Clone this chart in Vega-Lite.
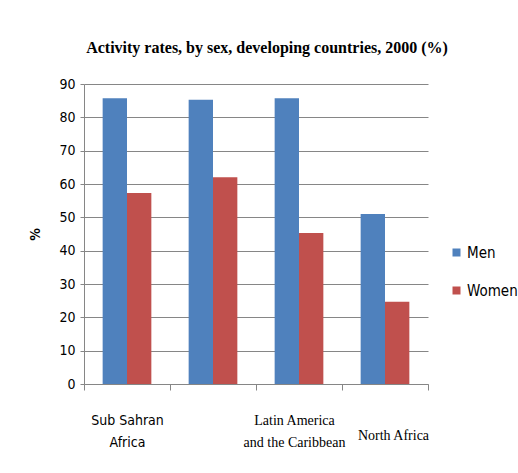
{
  "$schema": "https://vega.github.io/schema/vega-lite/v6.json",
  "width": 344,
  "height": 300,
  "autosize": {"type": "none"},
  "padding": {"left": 84, "top": 84, "right": 90, "bottom": 89},
  "background": "white",
  "title": {
    "text": "Activity rates, by sex, developing countries, 2000 (%)",
    "font": "Liberation Serif",
    "fontSize": 16,
    "fontWeight": "bold",
    "color": "#000000",
    "anchor": "middle",
    "dx": 11,
    "offset": 21
  },
  "data": {
    "values": [
      {"region": "Sub Sahran Africa", "sex": "Men", "value": 85.7},
      {"region": "Sub Sahran Africa", "sex": "Women", "value": 57.3},
      {"region": " ", "sex": "Men", "value": 85.3},
      {"region": " ", "sex": "Women", "value": 62.0},
      {"region": "Latin America and the Caribbean", "sex": "Men", "value": 85.7},
      {"region": "Latin America and the Caribbean", "sex": "Women", "value": 45.3},
      {"region": "North Africa", "sex": "Men", "value": 51.0},
      {"region": "North Africa", "sex": "Women", "value": 24.7}
    ]
  },
  "mark": {"type": "bar"},
  "encoding": {
    "x": {
      "field": "region",
      "type": "nominal",
      "sort": null,
      "scale": {"paddingInner": 0, "paddingOuter": 0},
      "axis": {
        "title": null,
        "labelAngle": 0,
        "tickBand": "extent",
        "tickSize": 6,
        "tickColor": "#868686",
        "domainColor": "#868686",
        "labelBaseline": {"condition": {"test": "datum.value === 'North Africa'", "value": "bottom"}, "value": "middle"},
        "labelPadding": 30,
        "labelLineHeight": 22,
        "labelOffset": {"condition": [{"test": "datum.value === 'North Africa'", "value": 8}, {"test": "datum.value === 'Latin America and the Caribbean'", "value": -5}], "value": 0},
        "labelFontSize": 14,
        "labelColor": "#000000",
        "labelFont": {"condition": {"test": "datum.value === 'Sub Sahran Africa'", "value": "DejaVu Sans Condensed"}, "value": "Liberation Serif"},
        "labelExpr": "datum.value === 'Sub Sahran Africa' ? ['Sub Sahran', 'Africa'] : datum.value === 'Latin America and the Caribbean' ? ['Latin America', 'and the Caribbean'] : datum.value === 'North Africa' ? ['', 'North Africa'] : datum.value"
      }
    },
    "xOffset": {
      "field": "sex",
      "type": "nominal",
      "scale": {"paddingInner": 0, "paddingOuter": 0.766}
    },
    "y": {
      "field": "value",
      "type": "quantitative",
      "scale": {"domain": [0, 90], "nice": false},
      "axis": {
        "title": "%",
        "titleFont": "DejaVu Sans Condensed",
        "titleFontSize": 14,
        "titleFontWeight": "bold",
        "titleColor": "#000000",
        "titlePadding": 16,
        "values": [0, 10, 20, 30, 40, 50, 60, 70, 80, 90],
        "labelFont": "DejaVu Sans Condensed",
        "labelFontSize": 14,
        "labelColor": "#000000",
        "labelPadding": 5,
        "tickSize": 4,
        "tickColor": "#868686",
        "domainColor": "#868686",
        "grid": true,
        "gridColor": "#868686",
        "gridWidth": 1
      }
    },
    "color": {
      "field": "sex",
      "type": "nominal",
      "scale": {"domain": ["Men", "Women"], "range": ["#4F81BD", "#C0504D"]},
      "legend": {
        "title": null,
        "orient": "none",
        "legendX": 365,
        "legendY": 161,
        "symbolType": "square",
        "symbolSize": 64,
        "symbolStrokeWidth": 0,
        "labelFont": "DejaVu Sans Condensed",
        "labelFontSize": 15,
        "labelColor": "#000000",
        "labelOffset": 3,
        "rowPadding": 22
      }
    }
  },
  "config": {
    "view": {"stroke": null}
  }
}
